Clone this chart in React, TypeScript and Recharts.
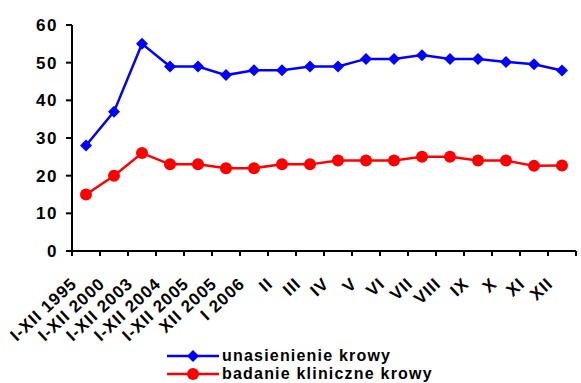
import React from "react"
import { LineChart, Line, XAxis, YAxis } from "recharts"

// categories along the bottom axis
const categories = [
  "I-XII 1995",
  "I-XII 2000",
  "I-XII 2003",
  "I-XII 2004",
  "I-XII 2005",
  "XII 2005",
  "I 2006",
  "II",
  "III",
  "IV",
  "V",
  "VI",
  "VII",
  "VIII",
  "IX",
  "X",
  "XI",
  "XII",
]

const unasienienie = [28, 37, 55, 49, 49, 46.7, 48, 48, 49, 49, 51, 51, 52, 51, 51, 50.2, 49.6, 47.9]
const badanie = [15, 20, 26, 23, 23, 22, 22, 23, 23, 24, 24, 24, 25, 25, 24, 24, 22.6, 22.7]

const yTicks = [0, 10, 20, 30, 40, 50, 60]

const seriesNames = ["unasienienie krowy", "badanie kliniczne krowy"]

const data = categories.map((name, i) => ({
  i,
  name,
  unasienienie: unasienienie[i],
  badanie: badanie[i],
}))

// tick marks sit between categories (Excel style)
const boundaries = [...categories.map((_, k) => k - 0.5), categories.length - 0.5]

const FONT = "'Liberation Sans', Arial, sans-serif"
const BLUE = "#0000ff"
const RED = "#ff0000"

const Diamond = ({ cx, cy, r = 6, fill = BLUE }: { cx?: number; cy?: number; r?: number; fill?: string }) => {
  if (cx == null || cy == null) return null
  return <path d={`M${cx},${cy - r} L${cx + r},${cy} L${cx},${cy + r} L${cx - r},${cy} Z`} fill={fill} />
}

const Circle = ({ cx, cy }: { cx?: number; cy?: number }) => {
  if (cx == null || cy == null) return null
  return <circle cx={cx} cy={cy} r={6} fill={RED} />
}

const CategoryTick = (props: any) => {
  const { x, y, payload, width } = props
  const k = Math.round(payload.value + 0.5)
  if (k >= categories.length) return null
  const half = width / categories.length / 2
  return (
    <g transform={`translate(${x + half - 8},${y + 27})`}>
      <text
        textAnchor="end"
        transform="rotate(-43)"
        fontFamily={FONT}
        fontWeight="bold"
        fontSize={17}
        letterSpacing={1}
        fill="#000"
      >
        {categories[k]}
      </text>
    </g>
  )
}

export default function App() {
  return (
    <div style={{ position: "relative", width: 581, height: 383, overflow: "hidden", background: "#fff" }}>
      <style>{`body{margin:0;overflow:hidden}`}</style>
      <LineChart width={581} height={383} data={data} margin={{ top: 25, right: 5, bottom: 0, left: 0 }}>
        <XAxis
          dataKey="i"
          type="number"
          domain={[-0.5, categories.length - 0.5]}
          ticks={boundaries}
          interval={0}
          height={132}
          tick={<CategoryTick />}
          tickSize={5}
          stroke="#000"
          strokeWidth={2}
        />
        <YAxis
          width={72}
          domain={[0, 60]}
          ticks={yTicks}
          interval={0}
          tickSize={6}
          tickMargin={8}
          stroke="#000"
          strokeWidth={2}
          tick={{ fill: "#000", fontFamily: FONT, fontWeight: "bold", fontSize: 17, letterSpacing: 1.5 }}
        />
        <Line
          dataKey="unasienienie"
          stroke={BLUE}
          strokeWidth={2.5}
          dot={(p: any) => <Diamond key={p.index} cx={p.cx} cy={p.cy} />}
          isAnimationActive={false}
        />
        <Line
          dataKey="badanie"
          stroke={RED}
          strokeWidth={2.5}
          dot={(p: any) => <Circle key={p.index} cx={p.cx} cy={p.cy} />}
          isAnimationActive={false}
        />
      </LineChart>
      <div style={{ position: "absolute", left: 167, top: 347, fontFamily: FONT, fontWeight: "bold", fontSize: 16 }}>
        {seriesNames.map((name, idx) => (
          <div key={name} style={{ display: "flex", alignItems: "center", height: 18, lineHeight: "18px" }}>
            <svg width={52} height={18}>
              <line x1={0} y1={9} x2={52} y2={9} stroke={idx === 0 ? BLUE : RED} strokeWidth={2.5} />
              {idx === 0 ? <Diamond cx={26} cy={9} /> : <circle cx={26} cy={9} r={6} fill={RED} />}
            </svg>
            <span style={{ marginLeft: 3, letterSpacing: 1.2, whiteSpace: "nowrap" }}>{name}</span>
          </div>
        ))}
      </div>
    </div>
  )
}
